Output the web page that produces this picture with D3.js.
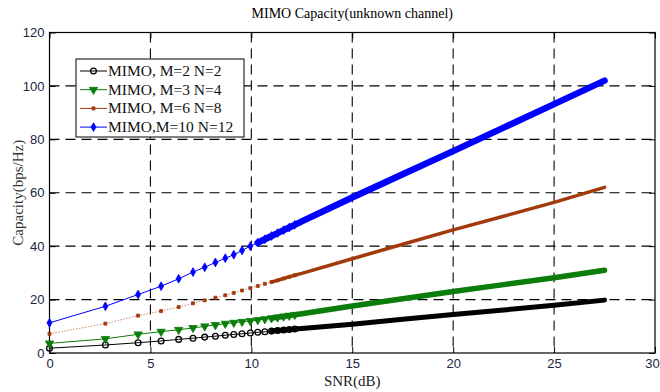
<!DOCTYPE html>
<html>
<head>
<meta charset="utf-8">
<script src="https://cdn.jsdelivr.net/npm/d3@7"></script>
<style>
  body { margin: 0; background: #fff; }
  svg { display: block; }
</style>
</head>
<body>
<div id="chart"></div>
<script>
// SNR (dB) sample points
const snr = [0, 2.77, 4.39, 5.53, 6.4, 7.11, 7.69, 8.22, 8.71, 9.13, 9.54, 9.95, 10.32, 10.67,
             11.0, 11.3, 11.6, 11.88, 12.15, 12.5, 15, 17.5, 20, 22.5, 25, 27.5];

const capM2N2 = [1.8, 3.0, 3.85, 4.5, 5.1, 5.55, 5.95, 6.3, 6.65, 6.95, 7.2, 7.5, 7.75, 7.95,
                 8.2, 8.4, 8.6, 8.8, 8.95, 9.2, 10.8, 12.6, 14.4, 16.1, 17.9, 19.8];
const capM3N4 = [3.6, 5.3, 7.0, 8.0, 8.7, 9.4, 10.0, 10.5, 11.0, 11.35, 11.7, 12.0, 12.35, 12.7,
                 13.05, 13.35, 13.7, 14.0, 14.3, 14.7, 17.6, 20.3, 23.0, 25.6, 28.2, 31.0];
const capM6N8 = [7.2, 11.0, 14.0, 15.7, 17.2, 18.6, 19.7, 20.7, 21.6, 22.5, 23.4, 24.3, 25.1, 25.9,
                 26.6, 27.2, 27.9, 28.5, 29.1, 29.8, 35.3, 40.7, 46.1, 51.2, 56.4, 62.0];
const capM10N12 = [11.3, 17.5, 21.9, 25.0, 27.8, 30.3, 32.1, 33.9, 35.5, 36.8, 38.4, 40.0, 41.3, 42.6,
                   43.8, 44.9, 46.0, 47.0, 48.0, 49.3, 58.2, 66.9, 75.6, 84.4, 93.2, 102.0];

const seriesNames = ['MIMO, M=2 N=2', 'MIMO, M=3 N=4', 'MIMO, M=6 N=8', 'MIMO,M=10 N=12'];
const xTicks = [0, 5, 10, 15, 20, 25, 30];
const yTicks = [0, 20, 40, 60, 80, 100, 120];

const width = 660, height = 392;
const plotL = 49.5, plotR = 655, plotT = 32.5, plotB = 353;

// style per series: marker shape, colours, where the markers merge into a band
const styles = [
    { color: '#000000', symbol: 'circle', band: 5, bandFrom: 11.0, dash: null },
    { color: '#0a7d0a', symbol: 'triangle', band: 5.5, bandFrom: 11.0, dash: null },
    { color: '#a33a0c', symbol: 'square', band: 3.5, bandFrom: 11.0, dash: '1.5,1.5' },
    { color: '#0000ff', symbol: 'diamond', band: 6.5, bandFrom: 10.3, dash: null }
];
const allSeries = [capM2N2, capM3N4, capM6N8, capM10N12];
const markerUntil = 12.2;

const x = d3.scaleLinear().domain([0, 30]).range([plotL, plotR]);
const y = d3.scaleLinear().domain([0, 120]).range([plotB, plotT]);

const svg = d3.select('#chart').append('svg')
    .attr('width', width)
    .attr('height', height);

// grid
const grid = svg.append('g')
    .attr('stroke', '#000')
    .attr('stroke-width', 1.1)
    .attr('stroke-dasharray', '10,6');
grid.selectAll('.gx').data(xTicks.slice(1, -1)).enter().append('line')
    .attr('x1', d => x(d)).attr('x2', d => x(d))
    .attr('y1', plotT).attr('y2', plotB);
grid.selectAll('.gy').data(yTicks.slice(1, -1)).enter().append('line')
    .attr('x1', plotL).attr('x2', plotR)
    .attr('y1', d => y(d)).attr('y2', d => y(d));

// axes (ticks point inward, box on)
const tickFont = 'Liberation Sans, Arial, sans-serif';
function styleAxis(g) {
    g.select('.domain').remove();
    g.selectAll('.tick line').attr('stroke', '#000').attr('stroke-width', 1);
    g.selectAll('.tick text').attr('font-family', tickFont).attr('font-size', 13).attr('fill', '#1b2545');
}
const xAxisG = svg.append('g').attr('transform', `translate(0,${plotB})`)
    .call(d3.axisBottom(x).tickValues(xTicks).tickSize(-6).tickPadding(6).tickFormat(d3.format('d')))
    .call(styleAxis);
// keep the last label inside the page
xAxisG.selectAll('.tick text').filter(d => d === 30).attr('dx', -3);

svg.append('g').attr('transform', `translate(${plotL},0)`)
    .call(d3.axisLeft(y).tickValues(yTicks).tickSize(-6).tickPadding(5).tickFormat(d3.format('d')))
    .call(styleAxis);
svg.append('g').attr('transform', `translate(0,${plotT})`)
    .call(d3.axisTop(x).tickValues(xTicks).tickSize(-6).tickFormat(''))
    .call(styleAxis);
svg.append('g').attr('transform', `translate(${plotR},0)`)
    .call(d3.axisRight(y).tickValues(yTicks).tickSize(-6).tickFormat(''))
    .call(styleAxis);

svg.append('rect')
    .attr('x', plotL).attr('y', plotT)
    .attr('width', plotR - plotL).attr('height', plotB - plotT)
    .attr('fill', 'none').attr('stroke', '#000').attr('stroke-width', 1.2);

// series
const symbolTypes = {
    circle: d3.symbolCircle, triangle: d3.symbolTriangle,
    square: d3.symbolSquare, diamond: d3.symbolDiamond
};
const symbolSize = { circle: 26, triangle: 30, square: 9, diamond: 22 };

function drawMarker(g, st, px, py) {
    const path = d3.symbol().type(symbolTypes[st.symbol]).size(symbolSize[st.symbol])();
    const rot = st.symbol === 'triangle' ? 180 : 0;
    const m = g.append('path')
        .attr('d', path)
        .attr('transform', `translate(${px},${py}) rotate(${rot})`);
    if (st.symbol === 'circle') {
        m.attr('fill', 'none').attr('stroke', st.color).attr('stroke-width', 1.3);
    } else if (st.symbol === 'square') {
        m.attr('fill', st.color).attr('stroke', st.color).attr('stroke-width', 0.8);
    } else {
        m.attr('fill', st.color).attr('stroke', st.color).attr('stroke-width', 0.8);
    }
}

const line = d3.line().x(d => x(d[0])).y(d => y(d[1]));

allSeries.forEach((vals, i) => {
    const st = styles[i];
    const pts = snr.map((s, j) => [s, vals[j]]);
    const g = svg.append('g');

    g.append('path')
        .attr('d', line(pts))
        .attr('fill', 'none')
        .attr('stroke', st.color)
        .attr('stroke-width', 1)
        .attr('stroke-opacity', st.dash ? 0.6 : 1)
        .attr('stroke-dasharray', st.dash);

    g.append('path')
        .attr('d', line(pts.filter(p => p[0] >= st.bandFrom)))
        .attr('fill', 'none')
        .attr('stroke', st.color)
        .attr('stroke-width', st.band)
        .attr('stroke-linecap', 'round')
        .attr('stroke-linejoin', 'round');

    pts.filter(p => p[0] <= markerUntil).forEach(p => drawMarker(g, st, x(p[0]), y(p[1])));
});

// legend
const legend = svg.append('g');
legend.append('rect')
    .attr('x', 76).attr('y', 59).attr('width', 168).attr('height', 78)
    .attr('fill', '#fff').attr('stroke', '#000').attr('stroke-width', 1);
seriesNames.forEach((name, i) => {
    const st = styles[i];
    const ly = 71 + i * 18.7;
    legend.append('line')
        .attr('x1', 80).attr('x2', 107).attr('y1', ly).attr('y2', ly)
        .attr('stroke', st.color).attr('stroke-width', 1);
    drawMarker(legend, st, 93.5, ly);
    legend.append('text')
        .attr('x', 108).attr('y', ly + 5)
        .attr('font-family', 'Liberation Serif, Times New Roman, serif')
        .attr('font-size', 15.5)
        .attr('fill', '#111')
        .text(name);
});

// titles
const serif = 'Liberation Serif, Times New Roman, serif';
svg.append('text')
    .attr('x', (plotL + plotR) / 2).attr('y', 18)
    .attr('text-anchor', 'middle')
    .attr('font-family', serif).attr('font-size', 14)
    .text('MIMO Capacity(unknown channel)');
svg.append('text')
    .attr('x', (plotL + plotR) / 2).attr('y', 386)
    .attr('text-anchor', 'middle')
    .attr('font-family', serif).attr('font-size', 15)
    .attr('fill', '#222')
    .text('SNR(dB)');
svg.append('text')
    .attr('transform', `translate(23,${(plotT + plotB) / 2}) rotate(-90)`)
    .attr('text-anchor', 'middle')
    .attr('font-family', serif).attr('font-size', 15)
    .attr('fill', '#333')
    .text('Capacity(bps/Hz)');
</script>
</body>
</html>
